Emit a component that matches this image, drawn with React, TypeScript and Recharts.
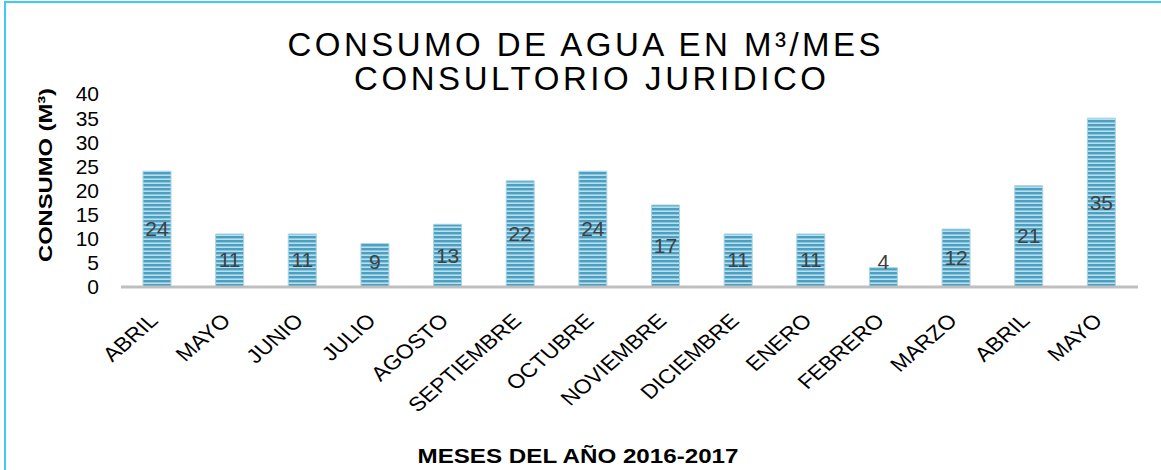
import React from "react";
import { BarChart, Bar, XAxis, YAxis, LabelList } from "recharts";

const months = ["ABRIL", "MAYO", "JUNIO", "JULIO", "AGOSTO", "SEPTIEMBRE", "OCTUBRE", "NOVIEMBRE", "DICIEMBRE", "ENERO", "FEBRERO", "MARZO", "ABRIL", "MAYO"];
const consumo = [24, 11, 11, 9, 13, 22, 24, 17, 11, 11, 4, 12, 21, 35];
const yTicks = [0, 5, 10, 15, 20, 25, 30, 35, 40];
const titleLine1 = "CONSUMO DE AGUA EN M³/MES";
const titleLine2 = "CONSULTORIO JURIDICO";
const yLabel = "CONSUMO (M³)";
const xLabel = "MESES DEL AÑO 2016-2017";

const data = months.map((m, i) => ({ key: `${m}-${i}`, mes: m, consumo: consumo[i] }));

const W = 1161;
const H = 470;

const XTick = (props: any) => {
  const { x, y, payload } = props;
  const label = months[payload.index] ?? payload.value;
  const ax = x + 2;
  const ay = y + 27;
  return (
    <text
      x={0}
      y={0}
      transform={`translate(${ax}, ${ay}) scale(1.15, 1) rotate(-45)`}
      textAnchor="end"
      fontFamily="Liberation Sans, Arial, sans-serif"
      fontSize={20}
      fill="#000"
    >
      {label}
    </text>
  );
};

const ValueLabel = (props: any) => {
  const { x, y, width, height, value } = props;
  const bottom = y + height;
  const cy = Math.min(y + height / 2, bottom - 25);
  return (
    <text
      x={x + width / 2}
      y={cy}
      dy={7}
      textAnchor="middle"
      fontFamily="Liberation Sans, Arial, sans-serif"
      fontSize={21}
      fill="#404040"
    >
      {value}
    </text>
  );
};

export default function App() {
  return (
    <div style={{ position: "absolute", left: 0, top: 0, width: W, height: H, background: "#fff", overflow: "hidden" }}>
      <div
        style={{
          position: "absolute",
          left: 4,
          top: 1,
          width: W,
          height: H,
          borderLeft: "2px solid #3ECBF4",
          borderTop: "2px solid #3ECBF4",
          boxSizing: "border-box",
        }}
      />
      <div style={{ position: "absolute", left: 0, top: 0 }}>
        <BarChart
          width={W}
          height={H}
          data={data}
          margin={{ top: 94, right: 23, bottom: 83, left: 5 }}
        >
          <defs>
            <pattern id="stripes" patternUnits="userSpaceOnUse" width="8" height="4">
              <rect x="0" y="0" width="8" height="4" fill="#B9DEEC" />
              <rect x="0" y="0" width="8" height="2.4" fill="#4B9FC2" />
            </pattern>
          </defs>
          <XAxis
            dataKey="key"
            height={100}
            tick={<XTick />}
            tickLine={false}
            axisLine={{ stroke: "#BFBFBF", strokeWidth: 3 }}
            interval={0}
          />
          <YAxis
            width={116}
            domain={[0, 40]}
            ticks={yTicks}
            interval={0}
            axisLine={false}
            tickLine={false}
            tick={{ fontSize: 21, fill: "#000", fontFamily: "Liberation Sans, Arial, sans-serif" }}
            tickMargin={16}
          />
          <Bar
            dataKey="consumo"
            barSize={28}
            fill="url(#stripes)"
            stroke="#A9D5E6"
            strokeWidth={1}
            isAnimationActive={false}
          >
            <LabelList dataKey="consumo" content={<ValueLabel />} />
          </Bar>
        </BarChart>
      </div>
      <svg
        width={W}
        height={H}
        style={{ position: "absolute", left: 0, top: 0, pointerEvents: "none" }}
      >
        <text
          x={584}
          y={56}
          textAnchor="middle"
          fontFamily="Liberation Sans, Arial, sans-serif"
          fontSize={33}
          textLength={593}
          fill="#000"
        >
          {titleLine1}
        </text>
        <text
          x={590}
          y={90}
          textAnchor="middle"
          fontFamily="Liberation Sans, Arial, sans-serif"
          fontSize={33}
          textLength={472}
          fill="#000"
        >
          {titleLine2}
        </text>
        <text
          x={0}
          y={0}
          transform="translate(52, 175) rotate(-90)"
          textAnchor="middle"
          fontFamily="Liberation Sans, Arial, sans-serif"
          fontWeight="bold"
          fontSize={19}
          textLength={174}
          lengthAdjust="spacingAndGlyphs"
          fill="#000"
        >
          {yLabel}
        </text>
        <text
          x={578}
          y={463}
          textAnchor="middle"
          fontFamily="Liberation Sans, Arial, sans-serif"
          fontWeight="bold"
          fontSize={20}
          textLength={321}
          lengthAdjust="spacingAndGlyphs"
          fill="#000"
        >
          {xLabel}
        </text>
      </svg>
    </div>
  );
}
